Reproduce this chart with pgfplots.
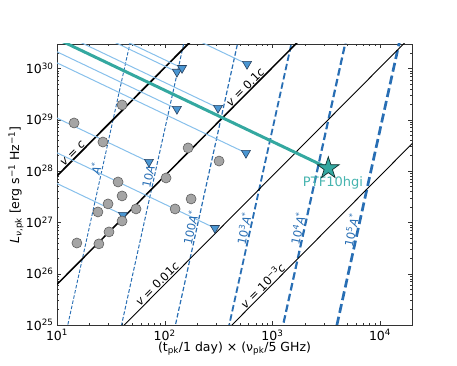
\documentclass[border=0pt]{standalone}
\usepackage{fontspec}
\setmainfont{DejaVu Sans}
\usepackage{pgfplots}
\pgfplotsset{compat=1.18}

\definecolor{ltblue}{RGB}{135,192,235}
\definecolor{dblue}{RGB}{40,110,180}
\definecolor{trifill}{RGB}{74,150,210}
\definecolor{triedge}{RGB}{40,65,95}
\definecolor{tealline}{RGB}{52,168,160}
\definecolor{ptfc}{RGB}{70,180,175}
\definecolor{circfill}{RGB}{165,165,165}
\definecolor{circedge}{RGB}{95,95,95}

% filled five-point star
\pgfdeclareplotmark{fstar}{%
  \pgfpathmoveto{\pgfpointpolar{90}{\pgfplotmarksize}}%
  \pgfpathlineto{\pgfpointpolar{126}{0.382\pgfplotmarksize}}%
  \pgfpathlineto{\pgfpointpolar{162}{\pgfplotmarksize}}%
  \pgfpathlineto{\pgfpointpolar{198}{0.382\pgfplotmarksize}}%
  \pgfpathlineto{\pgfpointpolar{234}{\pgfplotmarksize}}%
  \pgfpathlineto{\pgfpointpolar{270}{0.382\pgfplotmarksize}}%
  \pgfpathlineto{\pgfpointpolar{306}{\pgfplotmarksize}}%
  \pgfpathlineto{\pgfpointpolar{342}{0.382\pgfplotmarksize}}%
  \pgfpathlineto{\pgfpointpolar{18}{\pgfplotmarksize}}%
  \pgfpathlineto{\pgfpointpolar{54}{0.382\pgfplotmarksize}}%
  \pgfpathclose
  \pgfusepathqfillstroke}

\newcommand{\ticksz}{\fontsize{12.5}{15}\selectfont}
\newcommand{\lblsz}{\fontsize{11.5}{13.5}\selectfont}

\begin{document}
\begin{tikzpicture}
\path[use as bounding box] (-57pt,-41pt) rectangle (400pt,325pt);
\begin{axis}[
    at={(0pt,0pt)}, anchor=south west,
    scale only axis, width=355.4pt, height=281.2pt,
    xmode=log, ymode=log,
    xmin=10, xmax=2e4, ymin=1e25, ymax=3e30,
    axis line style={black!80},
    tick style={black!80},
    major tick length=4pt, minor tick length=2.2pt,
    xtick={10,100,1000,10000},
    xticklabels={10\textsuperscript{1},10\textsuperscript{2},10\textsuperscript{3},10\textsuperscript{4}},
    minor xtick={20,30,40,50,60,70,80,90,200,300,400,500,600,700,800,900,2000,3000,4000,5000,6000,7000,8000,9000},
    ytick={1e25,1e26,1e27,1e28,1e29,1e30},
    yticklabels={10\textsuperscript{25},10\textsuperscript{26},10\textsuperscript{27},10\textsuperscript{28},10\textsuperscript{29},10\textsuperscript{30}},
    minor ytick={2e25,3e25,4e25,5e25,6e25,7e25,8e25,9e25,2e26,3e26,4e26,5e26,6e26,7e26,8e26,9e26,2e27,3e27,4e27,5e27,6e27,7e27,8e27,9e27,2e28,3e28,4e28,5e28,6e28,7e28,8e28,9e28,2e29,3e29,4e29,5e29,6e29,7e29,8e29,9e29,2e30},
    tick label style={font=\ticksz},
    xticklabel style={yshift=-1pt},
]
% density lines A*, 10A*, ..., 1e5 A*
\addplot[dblue, line width=0.9pt, dash pattern=on 3.5pt off 1.8pt] coordinates {(9.88,1e24) (53.9,1e31)};
\addplot[dblue, line width=1.0pt, dash pattern=on 3.8pt off 1.9pt] coordinates {(31.2,1e24) (170.5,1e31)};
\addplot[dblue, line width=1.2pt, dash pattern=on 4.5pt off 2.2pt] coordinates {(98.8,1e24) (539,1e31)};
\addplot[dblue, line width=1.8pt, dash pattern=on 6.5pt off 3pt] coordinates {(312,1e24) (1705,1e31)};
\addplot[dblue, line width=2.2pt, dash pattern=on 7.5pt off 3.5pt] coordinates {(988,1e24) (5390,1e31)};
\addplot[dblue, line width=2.7pt, dash pattern=on 9pt off 4pt] coordinates {(3124,1e24) (17050,1e31)};
% velocity lines
\addplot[black, line width=1.7pt] coordinates {(10,7.98e27) (2e4,7.43e34)};
\addplot[black, line width=1.5pt] coordinates {(10,6.18e25) (2e4,5.75e32)};
\addplot[black, line width=0.9pt] coordinates {(10,4.79e23) (2e4,4.46e30)};
\addplot[black, line width=0.9pt] coordinates {(10,3.71e21) (2e4,3.45e28)};
% tracks of the upper limits
\addplot[ltblue, line width=1pt] coordinates {(10,1.105e31) (130,8.5e29)};
\addplot[ltblue, line width=1pt] coordinates {(10,1.4645e31) (145,1.01e30)};
\addplot[ltblue, line width=1pt] coordinates {(10,7.04e31) (582,1.21e30)};
\addplot[ltblue, line width=1pt] coordinates {(10,2.093e30) (130,1.61e29)};
\addplot[ltblue, line width=1pt] coordinates {(10,5.29e30) (313,1.69e29)};
\addplot[ltblue, line width=1pt] coordinates {(10,1.0725e29) (71.5,1.50e28)};
\addplot[ltblue, line width=1pt] coordinates {(10,1.2746e30) (569,2.24e28)};
\addplot[ltblue, line width=1pt] coordinates {(10,5.70e27) (41.0,1.39e27)};
\addplot[ltblue, line width=1pt] coordinates {(10,2.256e28) (293,7.7e26)};
% PTF10hgi track
\addplot[tealline, line width=3pt] coordinates {(10,3.74e30) (3310,1.13e28)};
% upper limits
\addplot[only marks, mark=triangle*, mark size=5.2pt,
  mark options={rotate=180, fill=trifill, draw=triedge, line width=0.6pt}]
  coordinates {(130,8.5e29) (145,1.01e30) (582,1.21e30) (130,1.61e29) (313,1.69e29)
               (71.5,1.50e28) (569,2.24e28) (41.0,1.39e27) (293,7.7e26)};
% detections
\addplot[only marks, mark=*, mark size=5pt,
  mark options={fill=circfill, draw=circedge, line width=0.6pt}]
  coordinates {(14.4,8.6e28) (40.2,1.93e29) (26.7,3.66e28) (165,2.81e28) (320,1.56e28)
               (103,7.3e27) (36.9,6.1e27) (40.2,3.26e27) (29.8,2.28e27) (24.0,1.59e27)
               (54.2,1.82e27) (125,1.82e27) (176,2.85e27) (40.2,1.06e27) (30.4,6.5e26)
               (24.5,3.8e26) (15.3,3.95e26)};
% PTF10hgi
\addplot[only marks, mark=fstar, mark size=11.5pt,
  mark options={fill=tealline, draw=black!70!tealline, line width=0.7pt}]
  coordinates {(3310,1.13e28)};

% labels
\node[rotate=45, anchor=south, inner sep=1pt, font=\lblsz] at (axis cs:15,1.88e28) {\textit{v} = \textit{c}};
\node[rotate=45, anchor=south, inner sep=1pt, font=\lblsz] at (axis cs:607,3.59e29) {\textit{v} = 0.1\textit{c}};
\node[rotate=45, anchor=south, inner sep=1pt, font=\lblsz] at (axis cs:92.5,5.25e25) {\textit{v} = 0.01\textit{c}};
\node[rotate=45, anchor=south, inner sep=1pt, font=\lblsz] at (axis cs:891,4.85e25) {\textit{v} = 10\textsuperscript{−3}\textit{c}};

\node[rotate=77.5, anchor=south, inner sep=1pt, text=dblue, font=\lblsz] at (axis cs:26.2,1.04e28) {\textit{A}\textsuperscript{*}};
\node[rotate=77.5, anchor=south, inner sep=1pt, text=dblue, font=\lblsz] at (axis cs:80.4,7.98e27) {10\textit{A}\textsuperscript{*}};
\node[rotate=77.5, anchor=south, inner sep=1pt, text=dblue, font=\lblsz] at (axis cs:198,7.41e26) {100\textit{A}\textsuperscript{*}};
\node[rotate=77.5, anchor=south, inner sep=1pt, text=dblue, font=\lblsz] at (axis cs:623,7.08e26) {10\textsuperscript{3}\textit{A}\textsuperscript{*}};
\node[rotate=77.5, anchor=south, inner sep=1pt, text=dblue, font=\lblsz] at (axis cs:1971,7.08e26) {10\textsuperscript{4}\textit{A}\textsuperscript{*}};
\node[rotate=77.5, anchor=south, inner sep=1pt, text=dblue, font=\lblsz] at (axis cs:6183,6.56e26) {10\textsuperscript{5}\textit{A}\textsuperscript{*}};

\node[text=ptfc, font=\fontsize{13}{15}\selectfont] at (axis cs:3656,5.83e27) {PTF10hgi};
\end{axis}
\node[font=\ticksz] at (177.5pt,-23.5pt) {(t\textsubscript{pk}/1 day) × (ν\textsubscript{pk}/5 GHz)};
\node[rotate=90, font=\ticksz] at (-41pt,140pt) {\textit{L}\textsubscript{\textit{ν},pk} [erg s\textsuperscript{−1} Hz\textsuperscript{−1}]};
\end{tikzpicture}
\end{document}
